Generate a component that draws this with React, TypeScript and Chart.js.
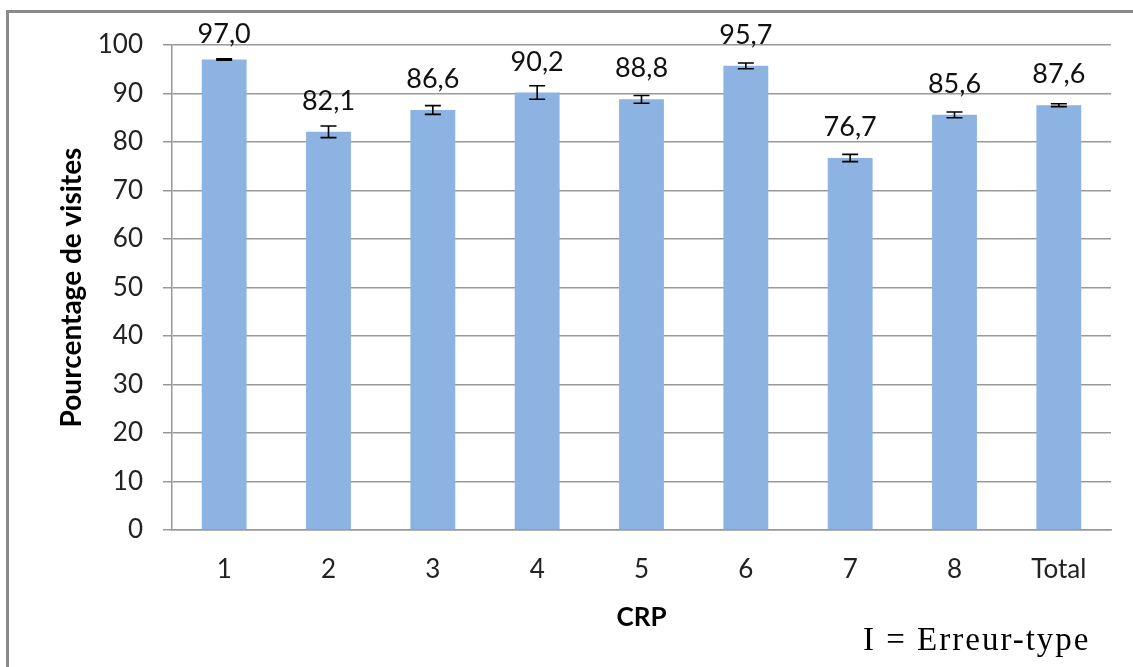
import React, { useEffect, useRef } from 'react';
import { Chart, registerables } from 'chart.js';

Chart.register(...registerables);

const categories = ['1', '2', '3', '4', '5', '6', '7', '8', 'Total'];
const values = [97.0, 82.1, 86.6, 90.2, 88.8, 95.7, 76.7, 85.6, 87.6];
const stdErrors = [0.15, 1.2, 0.9, 1.4, 0.8, 0.6, 0.75, 0.6, 0.3];
const yAxisTitle = 'Pourcentage de visites';
const xAxisTitle = 'CRP';
const note = 'I = Erreur-type';

const fmt = (v: number) => v.toFixed(1).replace('.', ',');

const overlayPlugin = {
  id: 'overlay',
  afterDatasetsDraw(chart: any) {
    const { ctx } = chart;
    const meta = chart.getDatasetMeta(0);
    const yScale = chart.scales.y;
    ctx.save();
    meta.data.forEach((bar: any, i: number) => {
      const x = bar.x;
      const v = values[i];
      const e = stdErrors[i];
      const yT = yScale.getPixelForValue(v + e);
      const yB = yScale.getPixelForValue(v - e);
      ctx.strokeStyle = '#000';
      ctx.lineWidth = 1.6;
      ctx.beginPath();
      ctx.moveTo(x, yT);
      ctx.lineTo(x, yB);
      ctx.moveTo(x - 8, yT);
      ctx.lineTo(x + 8, yT);
      ctx.moveTo(x - 8, yB);
      ctx.lineTo(x + 8, yB);
      ctx.stroke();
      ctx.fillStyle = '#111';
      ctx.font = '27px Lato';
      ctx.textAlign = 'center';
      ctx.textBaseline = 'alphabetic';
      ctx.fillText(fmt(v), x, Math.max(bar.y - 22, 43));
    });
    ctx.restore();
  },
};

export default function App() {
  const ref = useRef<HTMLCanvasElement>(null);
  useEffect(() => {
    if (!ref.current) return;
    const chart = new Chart(ref.current, {
      type: 'bar',
      data: {
        labels: categories,
        datasets: [
          {
            data: values,
            backgroundColor: '#8DB3E2',
            borderWidth: 0,
            barPercentage: 0.43,
            categoryPercentage: 1,
          },
        ],
      },
      options: {
        responsive: false,
        animation: false,
        layout: { padding: { left: 0, right: 22, top: 45, bottom: 0 } },
        plugins: { legend: { display: false }, tooltip: { enabled: false } },
        scales: {
          x: {
            grid: { display: false, drawTicks: false },
            border: { display: true, color: '#999', width: 1.5 },
            ticks: { padding: 24, color: '#222', font: { family: 'Lato', size: 26 } },
            title: {
              display: true,
              text: xAxisTitle,
              color: '#000',
              font: { family: 'Lato', size: 26, weight: 'bold' },
              padding: { top: 0, bottom: 34 },
            },
            afterFit(scale: any) {
              scale.height = 137;
            },
          },
          y: {
            min: 0,
            max: 100,
            ticks: { stepSize: 10, padding: 20, color: '#222', font: { family: 'Lato', size: 26 } },
            grid: { color: '#999', lineWidth: 1.5, tickLength: 9 },
            border: { display: true, color: '#999', width: 1.5 },
            title: {
              display: true,
              text: yAxisTitle,
              color: '#000',
              font: { family: 'Lato', size: 28, weight: 'bold' },
              padding: { top: 55, bottom: 0 },
            },
            afterFit(scale: any) {
              scale.width = 172;
            },
          },
        },
      },
      plugins: [overlayPlugin],
    });
    return () => chart.destroy();
  }, []);

  return (
    <div style={{ position: 'fixed', left: 0, top: 0, width: 1133, height: 667, background: '#fff', overflow: 'hidden' }}>
      <div
        style={{
          position: 'absolute',
          left: 6,
          top: 10,
          width: 2000,
          height: 2000,
          borderLeft: '3px solid #8a8a8a',
          borderTop: '3px solid #8a8a8a',
        }}
      />
      <canvas ref={ref} width={1133} height={667} style={{ position: 'absolute', left: 0, top: 0 }} />
      <div
        style={{
          position: 'absolute',
          left: 863,
          top: 620,
          fontFamily: '"Liberation Serif", serif',
          fontSize: 33,
          lineHeight: '38px',
          letterSpacing: 2,
          color: '#000',
          whiteSpace: 'nowrap',
        }}
      >
        {note}
      </div>
    </div>
  );
}
